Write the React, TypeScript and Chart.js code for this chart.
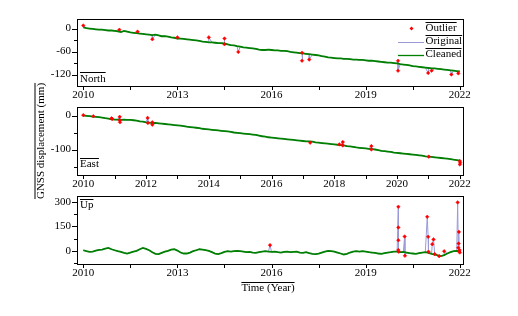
import React, { useEffect, useRef } from 'react';
import { Chart, registerables } from 'chart.js';

Chart.register(...registerables);

const FONT = "'Liberation Serif', 'Times New Roman', serif";

// sampling: one value every 0.1 year starting at 2010.0
const T0 = 2010;
const STEP = 0.1;

const northCleaned = [
  3, 1, 0, -1, -2, -3, -3, -4, -5, -5,
  -6, -7, -9, -6, -8, -10, -11, -12, -13, -14,
  -15, -16, -17, -16, -18, -20, -20, -21, -23, -24,
  -26, -26, -27, -28, -29, -30, -31, -32, -34, -35,
  -36, -36, -37, -38, -38, -39, -41, -43, -44, -46,
  -47, -49, -50, -51, -52, -53, -55, -56, -56, -55,
  -56, -57, -57, -58, -58, -59, -61, -62, -63, -64,
  -65, -66, -67, -68, -69, -70, -72, -73, -75, -76,
  -77, -78, -78, -79, -79, -80, -81, -81, -82, -82,
  -83, -84, -84, -85, -86, -87, -88, -89, -89, -90,
  -91, -93, -94, -95, -96, -98, -99, -100, -101, -102,
  -103, -104, -104, -105, -106, -107, -108, -109, -110, -111,
  -112,
];

const eastCleaned = [
  0, -1, -2, -3, -4, -5, -6, -8, -9, -11,
  -12, -12, -13, -12, -13, -13, -14, -15, -17, -18,
  -20, -21, -22, -22, -23, -24, -25, -26, -27, -28,
  -29, -30, -31, -33, -34, -35, -36, -37, -39, -40,
  -41, -42, -43, -44, -45, -46, -47, -48, -50, -51,
  -52, -53, -54, -55, -56, -57, -59, -61, -62, -64,
  -65, -66, -67, -68, -69, -70, -71, -72, -73, -74,
  -75, -76, -76, -77, -79, -80, -81, -82, -83, -84,
  -85, -86, -87, -88, -90, -91, -92, -94, -95, -96,
  -97, -98, -99, -100, -102, -104, -105, -106, -107, -109,
  -110, -111, -112, -113, -114, -115, -116, -117, -118, -120,
  -121, -122, -123, -124, -125, -126, -127, -128, -130, -131,
  -133,
];

const upCleaned = [
  4, -2, -6, -4, 2, 6, 8, 14, 18, 10,
  4, -2, -6, -12, -16, -10, -4, 0, 10, 18,
  12, 4, -8, -18, -20, -12, -4, 0, 8, 10,
  2, -10, -16, -16, -10, -2, 4, 10, 8, 4,
  0, -8, -16, -20, -14, -6, -2, -4, -2, 0,
  -2, -4, -8, -6, -10, -12, -8, -4, -2, -4,
  -6, -4, -8, -10, -6, -4, -8, -6, -4, -10,
  -12, -8, -14, -18, -20, -16, -10, -4, 0, -2,
  -4, -10, -16, -22, -18, -10, -4, -2, -4, -2,
  -4, -8, -10, -12, -16, -18, -14, -10, -8, -4,
  -4, -8, -6, -10, -14, -16, -18, -14, -10, -8,
  -12, -18, -22, -28, -32, -26, -16, -8, -2, 0,
  -2,
];

const northOutlierT = [2010.0, 2011.15, 2011.73, 2012.2, 2013.0, 2014.0, 2014.5, 2014.5, 2014.94, 2016.97, 2016.97, 2017.2, 2020.03, 2020.03, 2020.99, 2021.1, 2021.73, 2021.95];
const northOutlierV = [8, -3, -8, -28, -23, -23, -26, -41, -61, -63, -84, -81, -84, -110, -116, -110, -120, -117];

const eastOutlierT = [2010.0, 2010.32, 2010.9, 2010.92, 2011.16, 2011.16, 2011.17, 2012.05, 2012.06, 2012.2, 2012.2, 2017.23, 2018.16, 2018.27, 2018.27, 2019.18, 2019.18, 2021.01, 2022.0, 2022.0, 2022.01];
const eastOutlierV = [1, -2, -8, -10, -4, -14, -20, -7, -22, -20, -27, -80, -85, -78, -88, -90, -100, -121, -134, -144, -139];

const upOutlierT = [2015.95, 2020.04, 2020.04, 2020.04, 2020.04, 2020.05, 2020.24, 2020.25, 2020.96, 2020.99, 2021.0, 2021.12, 2021.16, 2021.2, 2021.34, 2021.5, 2021.93, 2021.95, 2021.96, 2021.97, 2021.98, 2021.99, 2022.0];
const upOutlierV = [35, 269, 143, 65, 5, -5, 88, -30, 208, 86, -5, 41, 70, -20, -32, -2, 296, 19, 45, 116, -5, 5, -10];

const xMin = 2009.8;
const xMax = 2022.1;
const xMajorA = [2010, 2013, 2016, 2019, 2022];
const xMinorA = [2011.5, 2014.5, 2017.5, 2020.5];
const xMajorB = [2010, 2012, 2014, 2016, 2018, 2020, 2022];
const xMinorB = [2011, 2013, 2015, 2017, 2019, 2021];

const legendLabels = ['Outlier', 'Original', 'Cleaned'];
const panelNames = ['North', 'East', 'Up'];
const yTitle = 'GNSS displacement (mm)';
const xTitle = 'Time (Year)';

const GREEN = '#008000';
const PURPLE = '#9a9ad8';
const RED = '#ff0000';

type Panel = {
  name: string;
  cleaned: number[];
  outT: number[];
  outV: number[];
  yMin: number;
  yMax: number;
  yMajor: number[];
  yMinor: number[];
  xMajor: number[];
  xMinor: number[];
  top: number;
  bottom: number;
  labelY: number;
  legend?: boolean;
  yTitle?: boolean;
  xTitle?: boolean;
};

const panels: Panel[] = [
  {
    name: panelNames[0], cleaned: northCleaned, outT: northOutlierT, outV: northOutlierV,
    yMin: -150, yMax: 25, yMajor: [0, -60, -120], yMinor: [-30, -90],
    xMajor: xMajorA, xMinor: xMinorA, top: 19, bottom: 86, labelY: 79, legend: true,
  },
  {
    name: panelNames[1], cleaned: eastCleaned, outT: eastOutlierT, outV: eastOutlierV,
    yMin: -175, yMax: 25, yMajor: [0, -100], yMinor: [-50, -150],
    xMajor: xMajorB, xMinor: xMinorB, top: 107, bottom: 175, labelY: 164.5, yTitle: true,
  },
  {
    name: panelNames[2], cleaned: upCleaned, outT: upOutlierT, outV: upOutlierV,
    yMin: -80, yMax: 335, yMajor: [0, 150, 300], yMinor: [-75, 75, 225],
    xMajor: xMajorA, xMinor: xMinorA, top: 196, bottom: 264, labelY: 205.5, xTitle: true,
  },
];

function series(vals: number[]) {
  return vals.map((v, i) => ({ x: T0 + Math.round(i * STEP * 1000) / 1000, y: v }));
}

function original(vals: number[], outT: number[], outV: number[]) {
  const pts = series(vals).concat(outT.map((t, i) => ({ x: t, y: outV[i] })));
  pts.sort((a, b) => a.x - b.x);
  return pts;
}

function overText(ctx: CanvasRenderingContext2D, text: string, x: number, y: number) {
  ctx.fillText(text, x, y);
  const w = ctx.measureText(text).width;
  ctx.beginPath();
  ctx.moveTo(x, Math.round(y - 7) + 0.5);
  ctx.lineTo(x + w, Math.round(y - 7) + 0.5);
  ctx.stroke();
}

function framePlugin(p: Panel) {
  return {
    id: 'frame_' + p.name,
    afterDraw(chart: any) {
      const ctx: CanvasRenderingContext2D = chart.ctx;
      const a = chart.chartArea;
      const xs = chart.scales.x;
      const ys = chart.scales.y;
      ctx.save();
      ctx.strokeStyle = '#000';
      ctx.fillStyle = '#000';
      ctx.lineWidth = 1;
      ctx.strokeRect(a.left + 0.5, a.top + 0.5, a.right - a.left, a.bottom - a.top);
      ctx.beginPath();
      p.yMajor.forEach((v) => {
        const y = Math.round(ys.getPixelForValue(v)) + 0.5;
        ctx.moveTo(a.left - 5, y);
        ctx.lineTo(a.left, y);
      });
      p.yMinor.forEach((v) => {
        const y = Math.round(ys.getPixelForValue(v)) + 0.5;
        ctx.moveTo(a.left - 3, y);
        ctx.lineTo(a.left, y);
      });
      p.xMajor.forEach((v) => {
        const x = Math.round(xs.getPixelForValue(v)) + 0.5;
        ctx.moveTo(x, a.bottom + 1);
        ctx.lineTo(x, a.bottom + 4);
      });
      p.xMinor.forEach((v) => {
        const x = Math.round(xs.getPixelForValue(v)) + 0.5;
        ctx.moveTo(x, a.bottom + 1);
        ctx.lineTo(x, a.bottom + 4);
      });
      ctx.stroke();

      ctx.font = `11px ${FONT}`;
      ctx.textBaseline = 'middle';
      ctx.textAlign = 'left';
      overText(ctx, p.name, a.left + 3, p.labelY);

      if (p.legend) {
        const rows = [28.5, 41.5, 54.5];
        const tx = 425.5;
        // outlier marker
        ctx.fillStyle = RED;
        ctx.beginPath();
        ctx.moveTo(411.5, rows[0] - 2);
        ctx.lineTo(413.5, rows[0]);
        ctx.lineTo(411.5, rows[0] + 2);
        ctx.lineTo(409.5, rows[0]);
        ctx.closePath();
        ctx.fill();
        ctx.strokeStyle = PURPLE;
        ctx.beginPath();
        ctx.moveTo(398, Math.round(rows[1]) + 0.5);
        ctx.lineTo(424, Math.round(rows[1]) + 0.5);
        ctx.stroke();
        ctx.strokeStyle = GREEN;
        ctx.lineWidth = 1.3;
        ctx.beginPath();
        ctx.moveTo(398, Math.round(rows[2]) + 0.5);
        ctx.lineTo(424, Math.round(rows[2]) + 0.5);
        ctx.stroke();
        ctx.lineWidth = 1;
        ctx.strokeStyle = '#000';
        ctx.fillStyle = '#000';
        legendLabels.forEach((l, i) => overText(ctx, l, tx, rows[i]));
      }

      if (p.yTitle) {
        ctx.save();
        ctx.translate(41.5, 141);
        ctx.rotate(-Math.PI / 2);
        ctx.textAlign = 'center';
        ctx.fillText(yTitle, 0, 0);
        const w = ctx.measureText(yTitle).width;
        ctx.beginPath();
        ctx.moveTo(-w / 2, -6.5);
        ctx.lineTo(w / 2, -6.5);
        ctx.stroke();
        ctx.restore();
      }

      if (p.xTitle) {
        const w = ctx.measureText(xTitle).width;
        overText(ctx, xTitle, 268 - w / 2, 288.5);
      }
      ctx.restore();
    },
  };
}

function makeChart(canvas: HTMLCanvasElement, p: Panel) {
  const tickFont = { family: FONT, size: 11 };
  return new Chart(canvas, {
    type: 'line',
    data: {
      datasets: [
        {
          label: legendLabels[0],
          data: p.outT.map((t, i) => ({ x: t, y: p.outV[i] })),
          showLine: false,
          pointStyle: 'rectRot',
          pointRadius: 1.8,
          pointBackgroundColor: RED,
          pointBorderColor: RED,
          pointBorderWidth: 0.5,
          borderWidth: 0,
        },
        {
          label: legendLabels[2],
          data: series(p.cleaned),
          borderColor: GREEN,
          borderWidth: 1.8,
          pointRadius: 0,
          tension: 0,
        },
        {
          label: legendLabels[1],
          data: original(p.cleaned, p.outT, p.outV),
          borderColor: PURPLE,
          borderWidth: 1,
          pointRadius: 0,
          tension: 0,
        },
      ],
    },
    options: {
      animation: false,
      responsive: false,
      devicePixelRatio: 1,
      layout: { padding: { left: 37, right: 55, top: p.top, bottom: 316 - p.bottom - 16 } },
      plugins: { legend: { display: false }, tooltip: { enabled: false } },
      scales: {
        x: {
          type: 'linear',
          min: xMin,
          max: xMax,
          afterBuildTicks: (s: any) => { s.ticks = p.xMajor.map((v) => ({ value: v })); },
          afterFit: (s: any) => { s.height = 16; },
          grid: { display: false, drawTicks: true, tickLength: 2 },
          border: { display: false },
          ticks: { padding: 1, font: tickFont, color: '#000', maxRotation: 0, autoSkip: false, callback: (v: any) => String(v) },
        },
        y: {
          type: 'linear',
          min: p.yMin,
          max: p.yMax,
          afterBuildTicks: (s: any) => { s.ticks = p.yMajor.slice().sort((a, b) => a - b).map((v) => ({ value: v })); },
          afterFit: (s: any) => { s.width = 40; },
          grid: { display: false, drawTicks: true, tickLength: 5 },
          border: { display: false },
          ticks: { padding: 1, font: tickFont, color: '#000', autoSkip: false, callback: (v: any) => String(v) },
        },
      },
    },
    plugins: [framePlugin(p)],
  } as any);
}

export default function App() {
  const refs = [useRef<HTMLCanvasElement>(null), useRef<HTMLCanvasElement>(null), useRef<HTMLCanvasElement>(null)];
  useEffect(() => {
    const charts = panels.map((p, i) => makeChart(refs[i].current as HTMLCanvasElement, p));
    return () => charts.forEach((c) => c.destroy());
  }, []);
  return (
    <div style={{ position: 'fixed', left: 0, top: 0, width: 518, height: 316, background: '#fff' }}>
      {refs.map((r, i) => (
        <canvas key={i} ref={r} width={518} height={316} style={{ position: 'absolute', left: 0, top: 0, width: 518, height: 316 }} />
      ))}
    </div>
  );
}
